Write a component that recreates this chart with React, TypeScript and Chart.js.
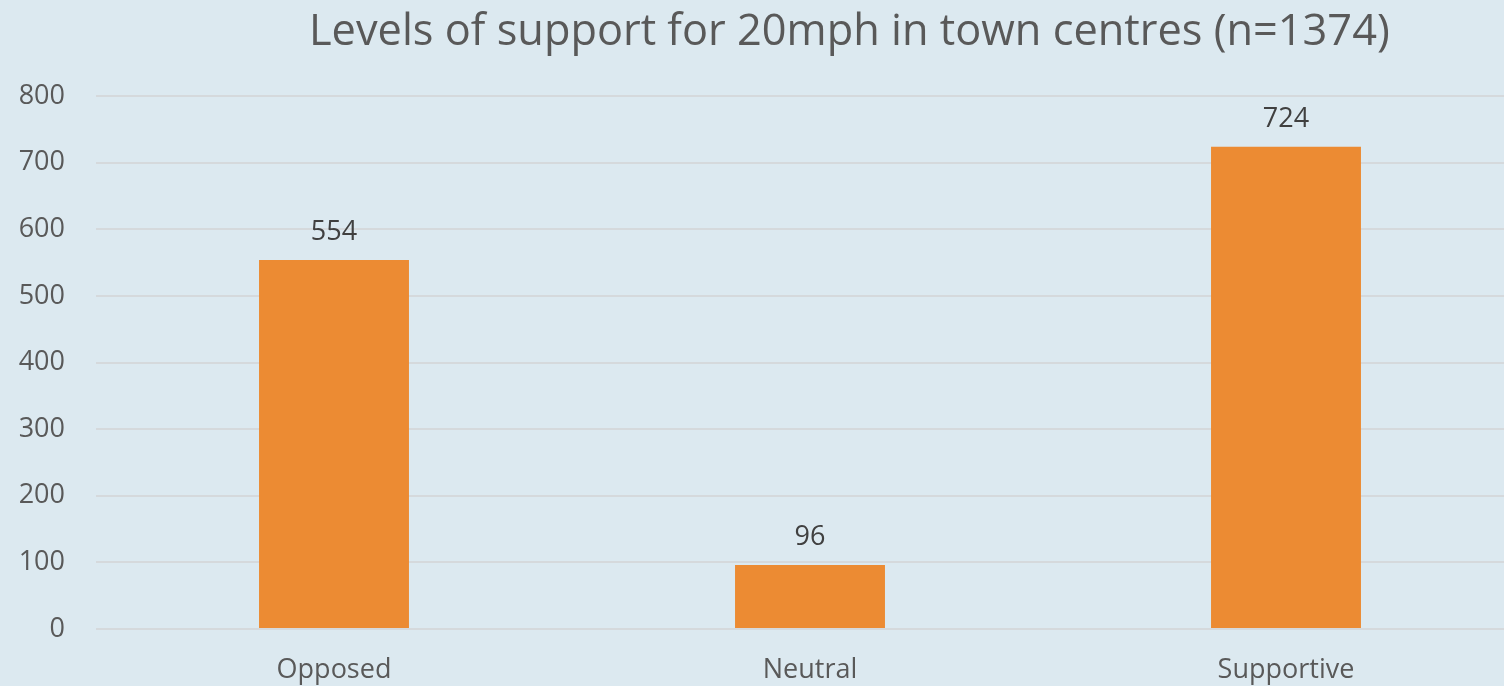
import React, { useEffect, useRef } from "react";
import { Chart, registerables } from "chart.js";

Chart.register(...registerables);

const titleText = "Levels of support for 20mph in town centres (n=1374)";
const categories = ["Opposed", "Neutral", "Supportive"];
const counts = [554, 96, 724];
const yMin = 0;
const yMax = 800;
const yStep = 100;

const BG = "#dce9f0";
const BAR = "#ec8b33";
const TEXT = "#595959";
const LABEL = "#404040";
const GRID = "#d5d9dc";
const FONT = '"Open Sans", "Noto Sans", sans-serif';

const titlePlugin = {
  id: "customTitle",
  afterDraw(chart: any) {
    const ctx = chart.ctx;
    ctx.save();
    let size = 40;
    ctx.font = `${size}px ${FONT}`;
    const w = ctx.measureText(titleText).width;
    size = (size * 1081) / w;
    ctx.font = `${size}px ${FONT}`;
    ctx.fillStyle = TEXT;
    ctx.textAlign = "left";
    ctx.textBaseline = "alphabetic";
    ctx.fillText(titleText, 309, 45);
    ctx.restore();
  },
};

const valueLabelPlugin = {
  id: "valueLabels",
  afterDatasetsDraw(chart: any) {
    const ctx = chart.ctx;
    const meta = chart.getDatasetMeta(0);
    ctx.save();
    ctx.font = `27px ${FONT}`;
    ctx.fillStyle = LABEL;
    ctx.textAlign = "center";
    ctx.textBaseline = "alphabetic";
    meta.data.forEach((bar: any, i: number) => {
      ctx.fillText(String(counts[i]), bar.x, bar.y - 20);
    });
    ctx.restore();
  },
};

export default function App() {
  const ref = useRef<HTMLCanvasElement | null>(null);

  useEffect(() => {
    if (!ref.current) return;
    const chart = new Chart(ref.current, {
      type: "bar",
      data: {
        labels: categories,
        datasets: [
          {
            data: counts,
            backgroundColor: BAR,
            borderWidth: 0,
            categoryPercentage: 1,
            barPercentage: 0.315,
          },
        ],
      },
      options: {
        responsive: false,
        animation: false,
        devicePixelRatio: 1,
        layout: { padding: { top: 96, bottom: 11, right: 6, left: 0 } },
        plugins: {
          legend: { display: false },
          title: { display: false },
          tooltip: { enabled: false },
        },
        scales: {
          x: {
            grid: { display: false, drawTicks: false },
            border: { display: false },
            ticks: {
              color: TEXT,
              font: { family: FONT, size: 27 },
              padding: 25,
              maxRotation: 0,
            },
            afterFit(scale: any) {
              scale.height = 60;
            },
          },
          y: {
            min: yMin,
            max: yMax,
            grid: { color: GRID, lineWidth: 2, drawTicks: false },
            border: { display: false },
            ticks: {
              stepSize: yStep,
              color: TEXT,
              font: { family: FONT, size: 27 },
              padding: 31,
            },
            afterFit(scale: any) {
              scale.width = 96;
            },
          },
        },
      },
      plugins: [titlePlugin, valueLabelPlugin],
    });
    return () => chart.destroy();
  }, []);

  return (
    <div
      style={{
        position: "fixed",
        left: 0,
        top: 0,
        width: 1504,
        height: 686,
        overflow: "hidden",
        background: BG,
      }}
    >
      <canvas ref={ref} width={1530} height={700} style={{ display: "block" }} />
    </div>
  );
}
